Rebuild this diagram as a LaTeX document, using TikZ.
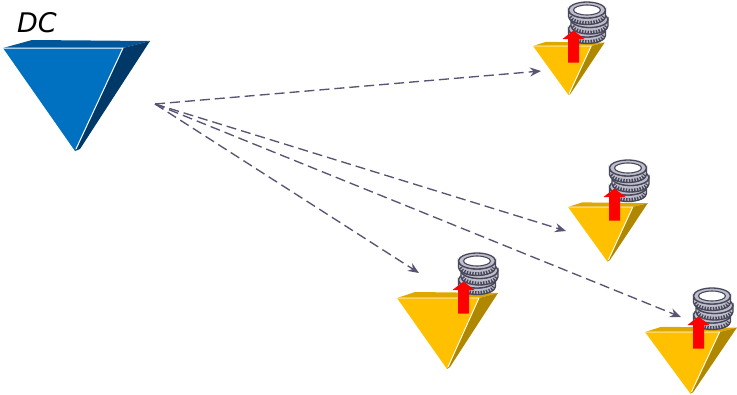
\documentclass[tikz,border=0pt]{standalone}
\usepackage{fontspec}
\setsansfont{DejaVu Sans}
\usepackage{xcolor}
\usetikzlibrary{arrows.meta}
\definecolor{dcFront}{RGB}{0,112,192}
\definecolor{dcTop}{RGB}{0,86,154}
\definecolor{dcSide}{RGB}{0,56,104}
\definecolor{edgeFront}{RGB}{255,192,0}
\definecolor{edgeTop}{RGB}{222,168,0}
\definecolor{edgeSide}{RGB}{176,136,0}
\definecolor{coinDark}{RGB}{72,72,92}
\definecolor{coinBand}{RGB}{190,190,202}
\definecolor{linkGray}{RGB}{88,84,116}
% triangle: left x, top y, xscale, yscale, three colours
\newcommand{\tiershape}[7]{
  \begin{scope}[shift={(#1,#2)},xscale=#3,yscale=#4]
    \fill[#6] (0,0) -- (18,-6) -- (101,-5) -- (82,0) -- cycle;
    \fill[#7] (82,0) -- (101,-5) -- (53,69) -- (50,71) -- cycle;
    \fill[#5] (0,0) -- (82,0) -- (50,71) -- cycle;
    \draw[white, line width=0.9pt] (0,0) -- (82,0) -- (51,69);
  \end{scope}
}
% coin stack with the red arrow: left x, top y
\newcommand{\coinstack}[2]{
  \begin{scope}[shift={(#1,#2)}]
    \foreach \cx/\cy in {19/27, 21.5/17.5, 19/8} {
      \filldraw[coinband] (\cx-18.5,\cy) arc[start angle=180, end angle=0, x radius=18.5, y radius=8]
        -- ++(0,6.5) arc[start angle=0, end angle=180, x radius=18.5, y radius=8] -- cycle;
      \draw[coinrib] (\cx-17,\cy+6.8) arc[start angle=170, end angle=10, x radius=17.2, y radius=7.5];
      \filldraw[coinband] (\cx,\cy) ellipse[x radius=18.5, y radius=8];
    }
    \draw[coinDark, line width=1.1pt, fill=white] (19,8) ellipse[x radius=13.5, y radius=5];
    \fill[red] (0,60.5) -- (0,37) -- (-5.5,37) -- (5.5,28.5) -- (16.5,37) -- (11,37) -- (11,60.5) -- cycle;
  \end{scope}
}
\begin{document}
\begin{tikzpicture}[
    x=1pt, y=-1pt,
    coinband/.style={draw=coinDark, fill=coinBand, line width=1.3pt},
    coinrib/.style={draw=coinDark, line width=3.8pt, dash pattern=on 1.5pt off 1.3pt},
    arr/.style={-{Stealth[length=11pt, width=9pt]}, draw=linkGray, line width=1.35pt, dash pattern=on 10pt off 5pt}
  ]
    \useasboundingbox (0,0) rectangle (737,394);
    \begin{scope}[shift={(3,48)}]
      \fill[dcTop] (0,0) -- (29,-8) -- (147,-7) -- (120,0) -- cycle;
      \fill[dcSide] (120,0) -- (147,-7) -- (77,101) -- (72,103) -- cycle;
      \fill[dcFront] (0,0) -- (120,0) -- (72,103) -- cycle;
      \draw[white, line width=1pt] (0,0) -- (120,0) -- (73,101);
    \end{scope}
    \node[font=\sffamily\itshape\fontsize{27}{27}\selectfont, anchor=base west, inner sep=0pt] (dc) at (17,32) {DC};

    \tiershape{533}{46}{0.71}{0.69}{edgeFront}{edgeTop}{edgeSide}
    \tiershape{568}{207}{0.79}{0.77}{edgeFront}{edgeTop}{edgeSide}
    \tiershape{397}{298}{1}{1}{edgeFront}{edgeTop}{edgeSide}
    \tiershape{645}{332}{0.91}{0.87}{edgeFront}{edgeTop}{edgeSide}

    \coinstack{568}{2}
    \coinstack{609}{160}
    \coinstack{458}{253}
    \coinstack{693}{288}

    \coordinate (hub) at (155,104);
    \coordinate (edge1) at (541,71);
    \coordinate (edge2) at (566,231);
    \coordinate (edge3) at (419,273);
    \coordinate (edge4) at (681,317);
    \draw[arr] (hub) -- (edge1);
    \draw[arr] (hub) -- (edge2);
    \draw[arr] (hub) -- (edge3);
    \draw[arr] (hub) -- (edge4);
  \end{tikzpicture}
\end{document}
